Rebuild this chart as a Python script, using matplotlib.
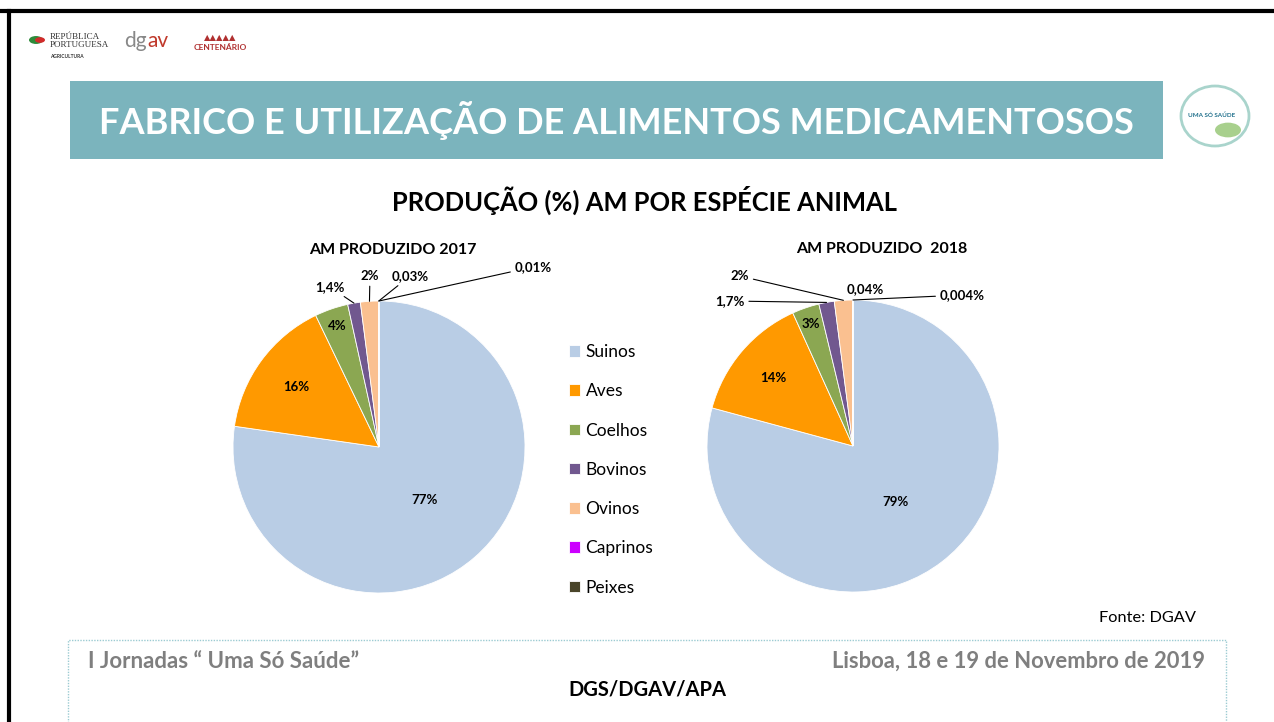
import numpy as np
import matplotlib.pyplot as plt
from matplotlib.patches import Rectangle, Circle, Ellipse
from matplotlib.lines import Line2D

W, H = 1274, 722

categories = ["Suinos", "Aves", "Coelhos", "Bovinos", "Ovinos", "Caprinos", "Peixes"]
colors = ["#B9CDE5", "#FF9900", "#8BA752", "#71588F", "#FAC090", "#CC00FF", "#4A452A"]

vals_2017 = [77.3, 15.6, 3.7, 1.4, 2.0, 0.03, 0.01]
labels_2017 = ["77%", "16%", "4%", "1,4%", "2%", "0,03%", "0,01%"]

vals_2018 = [79, 14, 3, 1.7, 2, 0.04, 0.004]
labels_2018 = ["79%", "14%", "3%", "1,7%", "2%", "0,04%", "0,004%"]

plt.rcParams['font.family'] = ['Lato', 'DejaVu Sans']

fig = plt.figure(figsize=(W / 100, H / 100), dpi=100)
fig.patch.set_facecolor("white")


def fx(x):
    return x / W


def fy(y):
    return 1 - y / H


def ftext(x, y, s, **kw):
    fig.text(fx(x), fy(y), s, **kw)


# slide frame
fig.add_artist(Line2D([0, 1], [fy(11), fy(11)], color="black", lw=3))
fig.add_artist(Line2D([fx(9), fx(9)], [fy(11), 0], color="black", lw=3))

# title bar
fig.add_artist(Rectangle((fx(70), fy(159)), (1163 - 70) / W, (159 - 81) / H,
                         transform=fig.transFigure, color="#7BB4BD", lw=0))
ftext(616, 120, "FABRICO E UTILIZAÇÃO DE ALIMENTOS MEDICAMENTOSOS",
      ha="center", va="center", color="white", fontsize=26, fontweight="bold")

# footer box
fig.add_artist(Rectangle((fx(68), fy(730)), (1226 - 68) / W, (730 - 640) / H,
                         transform=fig.transFigure, fill=False, ec="#9CCBD2",
                         lw=1, ls=(0, (1, 1))))
ftext(88, 661, "I Jornadas “ Uma Só Saúde”", ha="left", va="center",
      color="#7F7F7F", fontsize=16, fontweight="bold")
ftext(1205, 661, "Lisboa, 18 e 19 de Novembro de 2019", ha="right", va="center",
      color="#7F7F7F", fontsize=15.8, fontweight="bold")
ftext(647, 690, "DGS/DGAV/APA", ha="center", va="center", color="black",
      fontsize=14.5, fontweight="bold")
ftext(1196, 618, "Fonte: DGAV", ha="right", va="center", fontsize=11.8)

# logos (approximation)
fig.add_artist(Circle((fx(36), fy(40)), 7 / W, transform=fig.transFigure,
                      color="#2E8B3A", lw=0))
fig.add_artist(Circle((fx(40), fy(40)), 5 / W, transform=fig.transFigure,
                      color="#D22A2A", lw=0))
ftext(50, 41, "REPÚBLICA\nPORTUGUESA", ha="left", va="center", fontsize=6.5,
      family=["Liberation Serif"], linespacing=0.9, color="#333333")
ftext(50, 56, "AGRICULTURA", ha="left", va="center", fontsize=3.5,
      fontweight="bold", color="#333333")
ftext(147, 41, "dg", ha="right", va="center", fontsize=15, color="#888888")
ftext(147.5, 41, "av", ha="left", va="center", fontsize=15, color="#C0392B")
ftext(220, 47, "CENTENÁRIO", ha="center", va="center", fontsize=6,
      fontweight="bold", color="#B03030")
ftext(220, 38, "▲▲▲▲▲", ha="center", va="center", fontsize=6,
      color="#B03030", family=["DejaVu Sans"])

fig.add_artist(Ellipse((fx(1215), fy(116)), 68 / W, 60 / H, transform=fig.transFigure,
                       fill=False, ec="#A9D4CC", lw=2))
fig.add_artist(Circle((fx(1228), fy(130)), 13 / W, transform=fig.transFigure,
                      color="#A8D08D", lw=0))
ftext(1212, 115, "UMA SÓ SAÚDE", ha="center", va="center", fontsize=4.5,
      fontweight="bold", color="#1F6F8B")

# chart title
ftext(645, 200, "PRODUÇÃO (%) AM POR ESPÉCIE ANIMAL", ha="center", va="center",
      fontsize=18.4, fontweight="bold")

R = 146
HALF = 200


def draw_pie(cx, cy, title, title_dx, vals, labels, place):
    ax = fig.add_axes([fx(cx - HALF), fy(cy + HALF), 2 * HALF / W, 2 * HALF / H])
    wedges, _ = ax.pie(vals, colors=colors, startangle=90, counterclock=False,
                       wedgeprops=dict(edgecolor="white", linewidth=0.6))
    ax.set_xlim(-HALF / R, HALF / R)
    ax.set_ylim(-HALF / R, HALF / R)
    ax.axis("off")
    ax.text(title_dx, 1.35, title, ha="center", va="center", fontsize=11.5,
            fontweight="bold")
    for w, lab, p in zip(wedges, labels, place):
        mid = np.deg2rad((w.theta1 + w.theta2) / 2)
        if p[0] == "in":
            r = p[1]
            ax.text(r * np.cos(mid), r * np.sin(mid), lab, ha="center",
                    va="center", fontsize=9.5, fontweight="bold")
        else:
            _, tx, ty, line = p
            props = dict(arrowstyle="-", color="black", lw=0.8,
                         shrinkA=1, shrinkB=0) if line else None
            ax.annotate(lab, xy=(np.cos(mid), np.sin(mid)), xytext=(tx, ty),
                        ha="center", va="center", fontsize=9.5,
                        fontweight="bold", arrowprops=props,
                        annotation_clip=False)
    return wedges


place_2017 = [("in", 0.48), ("in", 0.70), ("in", 0.88),
              ("out", -0.336, 1.096, True), ("out", -0.062, 1.171, True),
              ("out", 0.212, 1.171, True), ("out", 1.055, 1.233, True)]
place_2018 = [("in", 0.48), ("in", 0.72), ("in", 0.88),
              ("out", -0.842, 0.993, True), ("out", -0.774, 1.164, True),
              ("out", 0.082, 1.075, False), ("out", 0.747, 1.034, True)]

wedges = draw_pie(379, 447, "AM PRODUZIDO 2017", 0.096, vals_2017, labels_2017,
                  place_2017)
draw_pie(853, 446, "AM PRODUZIDO  2018", 0.2, vals_2018, labels_2018, place_2018)

fig.legend(wedges, categories, loc="upper left",
           bbox_to_anchor=(fx(569), fy(344)), frameon=False, fontsize=12.5,
           handlelength=0.65, handleheight=0.65, handletextpad=0.3,
           labelspacing=1.34, borderaxespad=0, borderpad=0)

fig.savefig("out.png", dpi=100)
